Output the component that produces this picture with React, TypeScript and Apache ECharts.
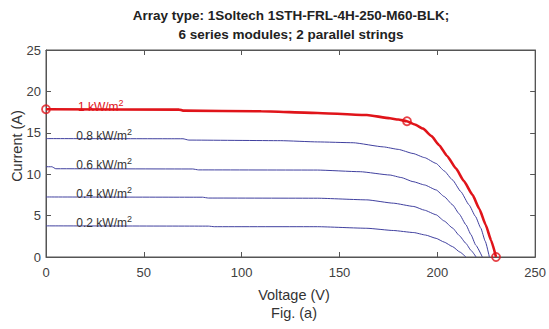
import React, { useEffect, useRef } from "react";
import * as echarts from "echarts";

const titleLines = ["Array type: 1Soltech 1STH-FRL-4H-250-M60-BLK;", "6 series modules; 2 parallel strings"];
const xTicks = [0, 50, 100, 150, 200, 250];
const yTicks = [0, 5, 10, 15, 20, 25];

const v100 = [0, 68, 70, 110, 138.7, 164, 175.8, 180, 184.5, 188.5, 192.7, 197, 201, 205, 209.5, 213.5, 218, 221.5, 224.7, 227.5, 230];
const i100 = [17.84, 17.8, 17.68, 17.6, 17.4, 17.15, 16.75, 16.6, 16.4, 16.0, 15.5, 14.6, 13.5, 12.2, 10.7, 9.2, 7.5, 5.8, 3.9, 2.0, 0];

const v80 = [0, 70, 73, 120, 138.7, 157, 172.4, 180, 187.6, 193.5, 199.4, 203.5, 207.8, 212, 216.2, 219.5, 222.2, 224.5, 226.6];
const i80 = [14.3, 14.28, 14.12, 14.05, 13.9, 13.8, 13.3, 13.0, 12.5, 12.0, 11.3, 10.4, 9.3, 7.9, 6.3, 4.9, 3.5, 1.9, 0];

const v60 = [0, 3, 5, 75, 78, 138.7, 160.6, 175.8, 181.5, 187.6, 193.5, 199.4, 203.5, 207.8, 211.2, 214.6, 217.2, 219.6, 223];
const i60 = [10.9, 10.9, 10.66, 10.63, 10.52, 10.5, 10.3, 9.9, 9.6, 9.1, 8.7, 8.1, 7.3, 6.3, 5.2, 3.9, 2.7, 1.45, 0];

const v40 = [0, 80, 83, 138.7, 164, 177.5, 188, 193.5, 199.4, 203.5, 207.8, 211.2, 214.6, 217.2, 219.8];
const i40 = [7.25, 7.22, 7.12, 7.1, 6.9, 6.5, 6.1, 5.65, 5.1, 4.35, 3.5, 2.6, 1.65, 0.8, 0];

const v20 = [0, 83, 86, 138.7, 164, 177.5, 188, 194, 199.4, 203.5, 207.8, 211.5, 214.6];
const i20 = [3.76, 3.73, 3.66, 3.66, 3.47, 3.2, 2.95, 2.65, 2.25, 1.8, 1.25, 0.6, 0];

const markerV = [0, 184.5, 230];
const markerI = [17.84, 16.4, 0];

const curveLabels = ["1 kW/m", "0.8 kW/m", "0.6 kW/m", "0.4 kW/m", "0.2 kW/m"];
const labelV = [16.3, 15.5, 15.5, 15.5, 15.5];

const zip = (a: number[], b: number[]) => a.map((x, k) => [x, b[k]]);

export default function App() {
  const ref = useRef<HTMLDivElement>(null);
  useEffect(() => {
    if (!ref.current) return;
    const chart = echarts.init(ref.current, null, { renderer: "svg" });
    const font = "'Liberation Sans', Arial, sans-serif";
    const blue = "#40409f";
    const red = "#e0141a";
    const curves = [
      { v: v100, i: i100, color: red, width: 2.6, textColor: red, off: 0.4 },
      { v: v80, i: i80, color: blue, width: 1, textColor: "#333", off: 0.5 },
      { v: v60, i: i60, color: blue, width: 1, textColor: "#333", off: 0.5 },
      { v: v40, i: i40, color: blue, width: 1, textColor: "#333", off: 0.5 },
      { v: v20, i: i20, color: blue, width: 1, textColor: "#333", off: 0.5 },
    ];
    const lineSeries = curves.map((c, k) => ({
      type: "line",
      data: zip(c.v, c.i),
      showSymbol: false,
      smooth: 0.15,
      smoothMonotone: "x",
      lineStyle: { color: c.color, width: c.width },
      z: k === 0 ? 5 : 3,
      markPoint: {
        symbol: "circle",
        symbolSize: 0,
        data: [
          {
            coord: [labelV[k], c.i[2] + c.off],
            label: {
              show: true,
              position: "right",
              distance: 0,
              formatter: "{b|" + curveLabels[k] + "}{s|2}",
              rich: {
                b: { fontSize: 12, fontFamily: font, color: c.textColor },
                s: { fontSize: 9, fontFamily: font, color: c.textColor, padding: [0, 0, 8, 0] },
              },
            },
          },
        ],
      },
    }));
    const axisLine = { show: true, onZero: false, lineStyle: { color: "#555", width: 1 } };
    const tick = { show: true, inside: true, length: 5, lineStyle: { color: "#555", width: 1 } };
    chart.setOption({
      animation: false,
      backgroundColor: "#fff",
      grid: { left: 46, right: 9, top: 50, bottom: 72, show: true, borderColor: "#555", borderWidth: 1 },
      xAxis: [
        {
          type: "value", min: xTicks[0], max: xTicks[xTicks.length - 1], interval: 50, position: "bottom",
          axisLine, axisTick: tick, splitLine: { show: false },
          axisLabel: { fontSize: 13, color: "#404040", fontFamily: font, margin: 9 },
        },
        {
          type: "value", min: xTicks[0], max: xTicks[xTicks.length - 1], interval: 50, position: "top",
          axisLine, axisTick: tick, splitLine: { show: false }, axisLabel: { show: false },
        },
      ],
      yAxis: [
        {
          type: "value", min: yTicks[0], max: yTicks[yTicks.length - 1], interval: 5, position: "left",
          axisLine, axisTick: tick, splitLine: { show: false },
          axisLabel: { fontSize: 13, color: "#404040", fontFamily: font, margin: 5 },
        },
        {
          type: "value", min: yTicks[0], max: yTicks[yTicks.length - 1], interval: 5, position: "right",
          axisLine, axisTick: tick, splitLine: { show: false }, axisLabel: { show: false },
        },
      ],
      graphic: [
        { type: "text", x: 291, y: 15, style: { text: titleLines[0], font: "bold 13.5px " + font, fill: "#222", textAlign: "center", textVerticalAlign: "middle" } },
        { type: "text", x: 291, y: 34, style: { text: titleLines[1], font: "bold 13.5px " + font, fill: "#222", textAlign: "center", textVerticalAlign: "middle" } },
        { type: "text", x: 294, y: 295, style: { text: "Voltage (V)", font: "14.5px " + font, fill: "#333", textAlign: "center", textVerticalAlign: "middle" } },
        { type: "text", x: 294, y: 313, style: { text: "Fig. (a)", font: "14.5px " + font, fill: "#333", textAlign: "center", textVerticalAlign: "middle" } },
        { type: "text", x: 17, y: 146, rotation: Math.PI / 2, style: { text: "Current (A)", font: "14.5px " + font, fill: "#333", textAlign: "center", textVerticalAlign: "middle" } },
      ],
      series: [
        ...lineSeries,
        {
          type: "scatter",
          data: zip(markerV, markerI),
          symbol: "circle",
          symbolSize: 8,
          clip: false,
          z: 6,
          itemStyle: { color: "rgba(255,255,255,0)", borderColor: red, borderWidth: 1.8 },
        },
      ],
    });
    return () => chart.dispose();
  }, []);
  return <div ref={ref} style={{ position: "fixed", left: 0, top: 0, width: 549, height: 329 }} />;
}
